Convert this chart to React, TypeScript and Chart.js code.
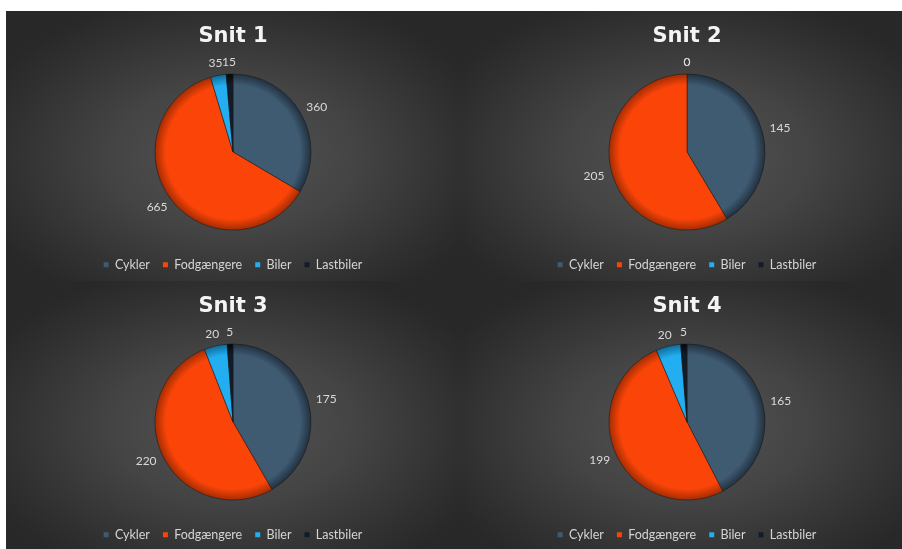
import React, { useEffect, useRef } from "react";
import { Chart, registerables } from "chart.js";

Chart.register(...registerables);

// ---- data ----
const categories = ["Cykler", "Fodgængere", "Biler", "Lastbiler"];
const snitTitles = ["Snit 1", "Snit 2", "Snit 3", "Snit 4"];
const snit1 = [360, 665, 35, 15];
const snit2 = [145, 205, 0, 0];
const snit3 = [175, 220, 20, 5];
const snit4 = [165, 199, 20, 5];
const snitValues = [snit1, snit2, snit3, snit4];

const baseColors = ["#3f5b72", "#fb4508", "#22aef0", "#121c28"];
const rimColors = ["#223140", "#a52c02", "#0f6c9a", "#05090e"];

const PIE_RADIUS = 78;
const CELL_W = 454;
const CELL_H = 270;

const outsideLabels = {
  id: "outsideLabels",
  afterDatasetsDraw(chart: any) {
    const ctx = chart.ctx;
    const meta = chart.getDatasetMeta(0);
    const data = chart.data.datasets[0].data;
    ctx.save();
    ctx.font = "12px Lato";
    ctx.fillStyle = "#d9d9d9";
    ctx.textAlign = "center";
    ctx.textBaseline = "middle";
    meta.data.forEach((arc: any, i: number) => {
      const p = arc.getProps(["x", "y", "startAngle", "endAngle", "outerRadius"], true);
      const mid = (p.startAngle + p.endAngle) / 2;
      const txt = String(data[i]);
      const hw = ctx.measureText(txt).width / 2;
      const hh = 4;
      const c = Math.cos(mid);
      const s = Math.sin(mid);
      const g = 8;
      const lx = p.x + (p.outerRadius + g) * c + c * hw;
      const ly = p.y + (p.outerRadius + g) * s + s * hh;
      ctx.fillText(txt, lx, ly);
    });
    ctx.restore();
  },
};

function PieCell({ title, values }: { title: string; values: number[] }) {
  const ref = useRef<HTMLCanvasElement | null>(null);
  useEffect(() => {
    if (!ref.current) return;
    const chart = new Chart(ref.current, {
      type: "pie",
      data: {
        labels: categories,
        datasets: [
          {
            data: values,
            backgroundColor: (ctx: any) => {
              const i = ctx.dataIndex;
              const ca = ctx.chart.chartArea;
              if (!ca) return baseColors[i];
              const cx = (ca.left + ca.right) / 2;
              const cy = (ca.top + ca.bottom) / 2;
              const gr = ctx.chart.ctx.createRadialGradient(cx, cy, 0, cx, cy, PIE_RADIUS);
              gr.addColorStop(0, baseColors[i]);
              gr.addColorStop(0.86, baseColors[i]);
              gr.addColorStop(1, rimColors[i]);
              return gr;
            },
            borderColor: "rgba(25,25,25,0.55)",
            borderWidth: 1,
          },
        ],
      },
      options: {
        animation: false,
        responsive: false,
        radius: PIE_RADIUS,
        layout: { padding: 0 },
        plugins: {
          title: {
            display: true,
            text: title,
            color: "#f4f4f4",
            font: { family: "DejaVu Sans", size: 21, weight: "bold" },
            padding: { top: 13, bottom: 9.3 },
          },
          legend: {
            display: true,
            position: "bottom",
            labels: {
              color: "#d4d4d4",
              font: { family: "Lato", size: 12.5 },
              boxWidth: 5,
              boxHeight: 5,
              padding: 13,
              generateLabels: () =>
                categories.map((c, i) => ({
                  text: c,
                  fillStyle: baseColors[i],
                  strokeStyle: "rgba(0,0,0,0)",
                  lineWidth: 0,
                  fontColor: "#d4d4d4",
                  hidden: false,
                  index: i,
                })),
            },
          },
          tooltip: { enabled: false },
        },
      } as any,
      plugins: [outsideLabels],
    });
    return () => chart.destroy();
  }, [title, values]);

  return (
    <div
      style={{
        position: "relative",
        width: CELL_W,
        height: CELL_H,
        background:
          "radial-gradient(ellipse 60% 62% at 50% 54%, #545454 0%, #444444 45%, #2f2f2f 85%, #282828 100%)",
      }}
    >
      <canvas ref={ref} width={CELL_W} height={CELL_H} style={{ display: "block" }} />
    </div>
  );
}

export default function App() {
  return (
    <div
      style={{
        position: "absolute",
        left: 6,
        top: 11,
        width: 896,
        height: 538,
        overflow: "hidden",
        background: "#2a2a2a",
      }}
    >
      <div style={{ display: "grid", gridTemplateColumns: `${CELL_W}px ${CELL_W}px`, width: CELL_W * 2 }}>
        {snitTitles.map((t, i) => (
          <PieCell key={t} title={t} values={snitValues[i]} />
        ))}
      </div>
    </div>
  );
}
